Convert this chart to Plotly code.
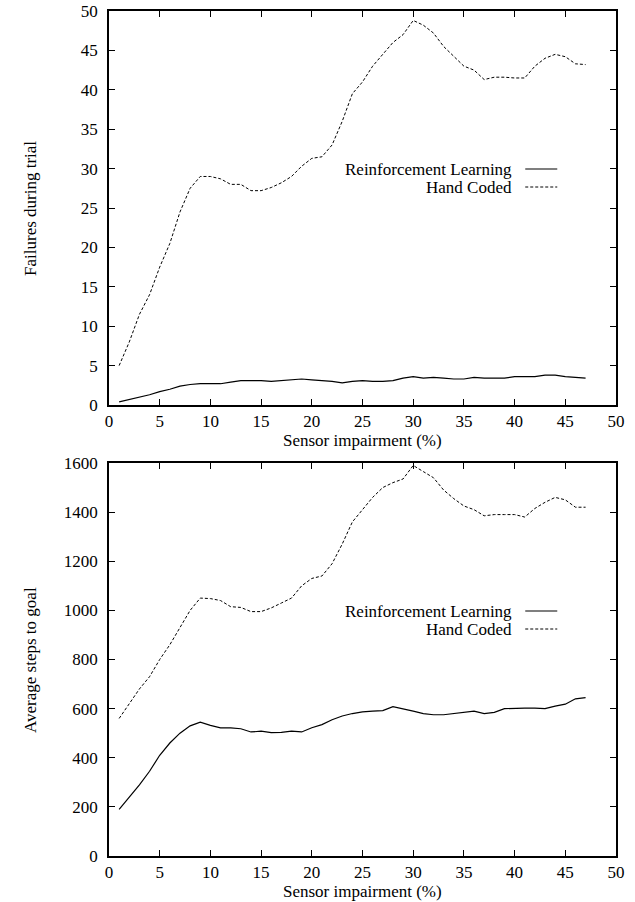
import plotly.graph_objects as go
from plotly.subplots import make_subplots

impairment = list(range(1, 48))

fail_rl = [0.4, 0.7, 1.0, 1.3, 1.7, 2.0, 2.4, 2.6, 2.7, 2.7,
           2.7, 2.9, 3.1, 3.1, 3.1, 3.0, 3.1, 3.2, 3.3, 3.2,
           3.1, 3.0, 2.8, 3.0, 3.1, 3.0, 3.0, 3.1, 3.4, 3.6,
           3.4, 3.5, 3.4, 3.3, 3.3, 3.5, 3.4, 3.4, 3.4, 3.6,
           3.6, 3.6, 3.8, 3.8, 3.6, 3.5, 3.4]
fail_hc = [5.0, 8.0, 11.5, 14.0, 17.5, 20.5, 24.5, 27.5, 29.0, 29.0,
           28.7, 28.0, 28.0, 27.2, 27.2, 27.6, 28.2, 29.0, 30.3, 31.3,
           31.5, 33.0, 36.0, 39.5, 41.0, 43.0, 44.5, 46.0, 47.0, 48.8,
           48.2, 47.2, 45.5, 44.2, 43.0, 42.5, 41.3, 41.6, 41.6, 41.5,
           41.5, 43.0, 44.0, 44.5, 44.2, 43.3, 43.2]

steps_rl = [190, 240, 290, 345, 410, 460, 500, 530, 545, 532,
            522, 522, 518, 505, 508, 502, 503, 508, 505, 522,
            535, 555, 570, 580, 587, 590, 592, 608, 600, 590,
            580, 575, 575, 580, 585, 590, 580, 585, 600, 602,
            602, 602, 600, 610, 618, 640, 645]
steps_hc = [560, 620, 680, 730, 800, 860, 930, 1000, 1050, 1048,
            1040, 1015, 1012, 995, 995, 1010, 1030, 1050, 1100, 1130,
            1140, 1190, 1270, 1360, 1410, 1460, 1500, 1520, 1535, 1590,
            1565, 1540, 1490, 1455, 1425, 1410, 1385, 1390, 1390, 1390,
            1380, 1415, 1440, 1460, 1450, 1420, 1420]

series_names = ["Reinforcement Learning", "Hand Coded"]
x_title = "Sensor impairment (%)"
y_titles = ["Failures during trial", "Average steps to goal"]

FONT = "Liberation Serif, Times New Roman, serif"
FS = 17

fig = make_subplots(rows=2, cols=1)

fig.add_trace(go.Scatter(x=impairment, y=fail_rl, mode="lines", name=series_names[0],
                         line=dict(color="black", width=1.2)), row=1, col=1)
fig.add_trace(go.Scatter(x=impairment, y=fail_hc, mode="lines", name=series_names[1],
                         line=dict(color="black", width=1, dash="3px,2px")), row=1, col=1)
fig.add_trace(go.Scatter(x=impairment, y=steps_rl, mode="lines", name=series_names[0],
                         line=dict(color="black", width=1.2)), row=2, col=1)
fig.add_trace(go.Scatter(x=impairment, y=steps_hc, mode="lines", name=series_names[1],
                         line=dict(color="black", width=1, dash="3px,2px")), row=2, col=1)

axis_common = dict(showline=True, linecolor="black", linewidth=1.5, mirror="ticks",
                   ticks="inside", ticklen=6, tickwidth=1, tickcolor="black",
                   showgrid=False, zeroline=False, automargin=False,
                   tickfont=dict(family=FONT, size=FS, color="black"))

top_dom = [(856 - 405) / 845, 1.0]
bot_dom = [0.0, (856 - 463) / 845]

fig.update_layout(
    width=635, height=902,
    margin=dict(l=109, r=19, t=11, b=46),
    paper_bgcolor="white", plot_bgcolor="white",
    showlegend=False,
    font=dict(family=FONT, size=FS, color="black"),
    xaxis=dict(range=[0, 50], dtick=5, tick0=0, anchor="y", **axis_common),
    yaxis=dict(range=[0, 50], dtick=5, tick0=0, domain=top_dom, anchor="x",
               ticklabelstandoff=6, **axis_common),
    xaxis2=dict(range=[0, 50], dtick=5, tick0=0, anchor="y2", **axis_common),
    yaxis2=dict(range=[0, 1600], dtick=200, tick0=0, domain=bot_dom, anchor="x2",
                ticklabelstandoff=6, **axis_common),
)

def py(p):
    return (856 - p) / 845

def px(p):
    return (p - 109) / 506.7

annotations = []
shapes = []
# axis titles
for ypix in (440, 891):
    annotations.append(dict(text=x_title, x=0.5, y=py(ypix), xref="paper", yref="paper",
                            showarrow=False, xanchor="center", yanchor="middle",
                            font=dict(family=FONT, size=FS, color="black")))
for title, ypix in zip(y_titles, (208, 660)):
    annotations.append(dict(text=title, x=px(30), y=py(ypix), xref="paper", yref="paper",
                            showarrow=False, textangle=-90, xanchor="center", yanchor="middle",
                            font=dict(family=FONT, size=FS, color="black")))
# legends
for rl_y, hc_y in ((169, 187), (611, 629)):
    for name, ypix, dash, w in ((series_names[0], rl_y, "solid", 1.2),
                                (series_names[1], hc_y, "3px,2px", 1)):
        annotations.append(dict(text=name, x=px(514), y=py(ypix), xref="paper", yref="paper",
                                showarrow=False, xanchor="right", yanchor="middle",
                                font=dict(family=FONT, size=FS, color="black")))
        shapes.append(dict(type="line", xref="paper", yref="paper",
                           x0=px(525), x1=px(557), y0=py(ypix), y1=py(ypix),
                           line=dict(color="black", width=w, dash=dash)))

fig.update_layout(annotations=annotations, shapes=shapes)
fig.write_html("out.html", config={"displayModeBar": False},
               post_script="document.body.style.margin='0px';document.body.style.overflow='hidden';")
